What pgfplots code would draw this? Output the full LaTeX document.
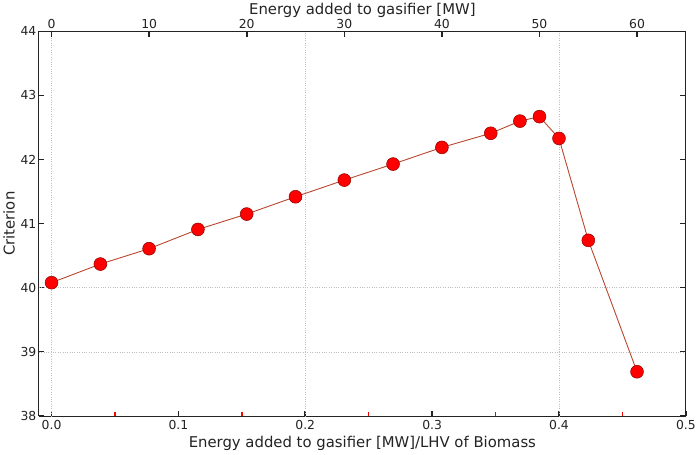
\documentclass[border=0pt]{standalone}
\usepackage{pgfplots}
\pgfplotsset{compat=1.18}
\usepackage{fontspec}
\setmainfont{DejaVu Sans}
\definecolor{lncol}{RGB}{185,70,45}
\definecolor{axcol}{RGB}{35,35,35}
\begin{document}
\begin{tikzpicture}
\pgfplotsset{every axis/.append style={
  /pgf/number format/assume math mode=true,
  scale only axis, width=651bp, height=387bp,
  axis line style={axcol, line width=0.9bp},
  tick label style={font=\fontsize{12.5}{14}\selectfont, text=axcol},
  label style={font=\fontsize{15}{18}\selectfont, text=axcol},
  tick align=inside,
  major tick length=5.5bp,
  minor tick length=4.5bp,
  major x tick style={draw=axcol, line width=1.6bp},
  major y tick style={draw=axcol, line width=1bp},
  minor x tick style={draw=red, line width=1.4bp},
}}
\begin{axis}[
  xmin=-0.01, xmax=0.5, ymin=38, ymax=44,
  axis x line*=bottom, axis y line*=left,
  xtick={0,0.1,0.2,0.3,0.4,0.5},
  xticklabels={0.0,0.1,0.2,0.3,0.4,0.5},
  minor xtick={0.05,0.15,0.25,0.35,0.45},
  ytick={38,39,40,41,42,43,44},
  xlabel={Energy added to gasifier [MW]/LHV of Biomass},
  ylabel={Criterion},
  xlabel style={yshift=0bp},
  ylabel style={yshift=-1bp},
  xticklabel style={yshift=-1bp},
  yticklabel style={xshift=1bp},
  extra x ticks={0,0.2,0.4},
  extra x tick labels={},
  extra y ticks={39,40},
  extra y tick labels={},
  extra tick style={grid=major, major tick length=0pt},
  major grid style={gray!50, dotted, line width=0.7bp},
]
\addplot[color=lncol, line width=0.9bp, mark=*, mark size=6.5bp,
  mark options={fill=red, draw=red!55!black, line width=0.5bp}]
  coordinates {
  (0.0000,40.08) (0.0385,40.37) (0.0769,40.61) (0.1154,40.91)
  (0.1538,41.15) (0.1923,41.42) (0.2308,41.68) (0.2692,41.93)
  (0.3077,42.19) (0.3462,42.41) (0.3692,42.60) (0.3846,42.67)
  (0.4000,42.33) (0.4231,40.74) (0.4615,38.69)
  };
\end{axis}
\begin{axis}[
  xmin=-1.3, xmax=65, ymin=38, ymax=44,
  axis x line*=top, axis y line*=right,
  xtick={0,10,20,30,40,50,60},
  ytick={38,39,40,41,42,43,44},
  yticklabels={},
  xlabel={Energy added to gasifier [MW]},
  xlabel style={yshift=-5bp},
  xticklabel style={yshift=-1bp},
]
\end{axis}
\end{tikzpicture}
\end{document}
